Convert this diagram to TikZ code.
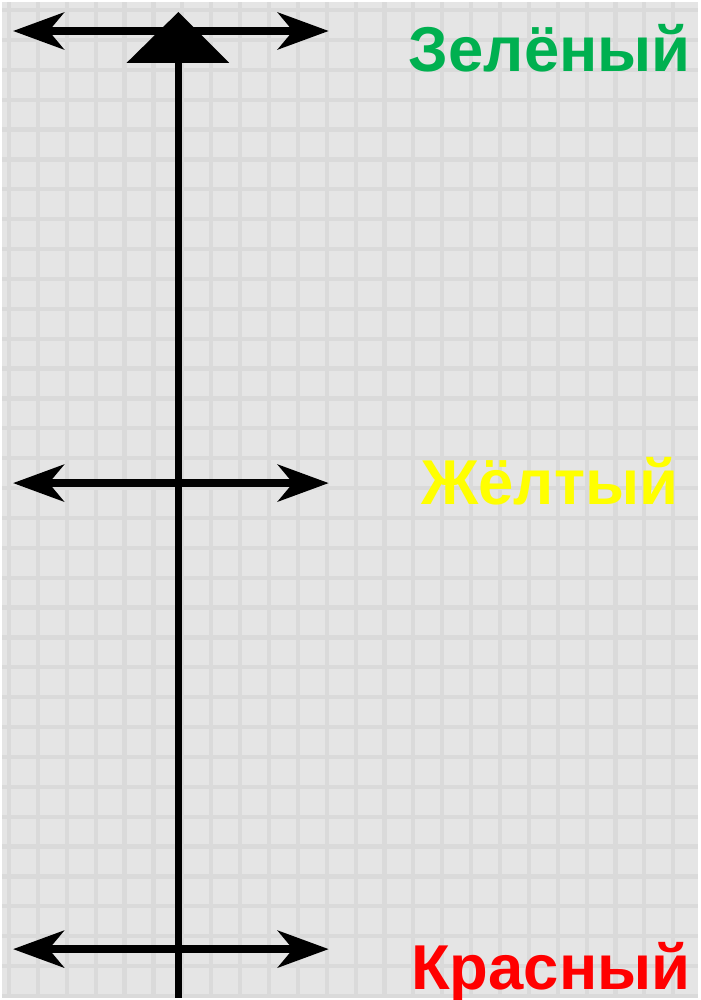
\documentclass[tikz,border=0pt]{standalone}
\usepackage{fontspec}
\setmainfont{Liberation Sans}
\usetikzlibrary{positioning, arrows.meta}

\definecolor{bgGray}{HTML}{E5E5E5}
\definecolor{gridGray}{HTML}{DADADA}
\definecolor{goGreen}{HTML}{00B050}
\definecolor{waitYellow}{HTML}{FFFF00}
\definecolor{stopRed}{HTML}{FF0000}

\begin{document}
\begin{tikzpicture}[
    x=0.01cm, y=-0.01cm,
    axis/.style={line width=2pt, black},
    dblarr/.style={line width=2.3pt, black, {Stealth[length=14.5pt, width=10.5pt, inset=4.3pt]}-{Stealth[length=14.5pt, width=10.5pt, inset=4.3pt]}},
    lbl/.style={font=\fontsize{18.1}{18.1}\selectfont\bfseries, anchor=base, inner sep=0pt}
  ]
  % background and faint grid
  \fill[bgGray] (0,0) rectangle (699,1000);
  \foreach \gx in {7,36,...,699} \draw[gridGray, line width=1.2pt] (\gx,0) -- (\gx,1000);
  \foreach \gy in {8,38,...,1000} \draw[gridGray, line width=1.2pt] (0,\gy) -- (699,\gy);
  \useasboundingbox (0,0) rectangle (699,1000);

  % pole
  \coordinate (top) at (177,40);
  \coordinate (bottom) at (177,1000);
  \draw[axis] (top) -- (bottom);
  \coordinate (apex) at (177,10);
  \coordinate (baseL) at (125,61);
  \coordinate (baseR) at (228,61);
  \fill[black] (apex) -- (baseL) -- (baseR) -- cycle;

  % levels
  \coordinate (greenL) at (11,29);
  \coordinate (greenR) at (328,29);
  \coordinate (yellowL) at (11,483);
  \coordinate (yellowR) at (328,483);
  \coordinate (redL) at (11,951);
  \coordinate (redR) at (328,951);
  \draw[dblarr] (greenL) -- (greenR);
  \draw[dblarr] (yellowL) -- (yellowR);
  \draw[dblarr] (redL) -- (redR);

  % labels
  \node[lbl, goGreen] (green) at (550,70) {Зелёный};
  \node[lbl, waitYellow] (yellow) at (550,505) {Жёлтый};
  \node[lbl, stopRed] (red) at (551,992) {Красный};
\end{tikzpicture}
\end{document}
